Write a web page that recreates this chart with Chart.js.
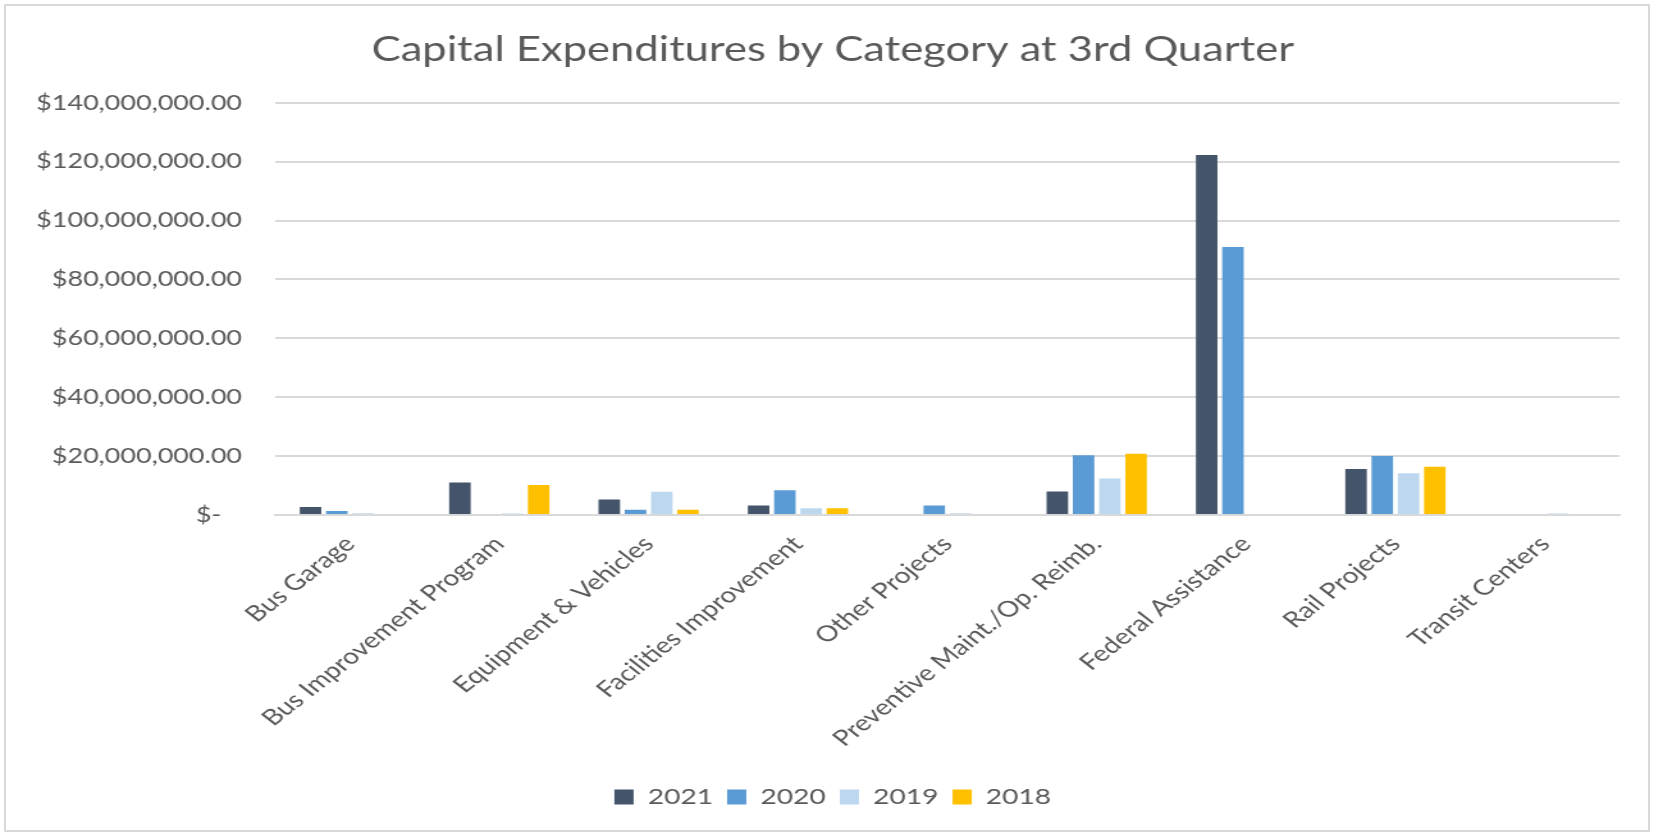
<!DOCTYPE html>
<html>
<head>
<meta charset="utf-8">
<script src="https://cdn.jsdelivr.net/npm/chart.js@4"></script>
<style>
  html, body { margin: 0; padding: 0; background: #fff; overflow: hidden; }
  #wrap { position: relative; width: 1654px; height: 833px; }
  /* the source picture is a horizontally stretched export, so the chart is drawn narrow and widened */
  #stretch { position: absolute; left: 0; top: 0; width: 1292px; height: 833px; transform: scaleX(1.2802); transform-origin: 0 0; }
  #frame { position: absolute; left: 4px; top: 4px; width: 1642px; height: 824px; border: 2px solid #d9d9d9; pointer-events: none; }
</style>
</head>
<body>
<div id="wrap">
  <div id="stretch"><canvas id="barCanvas" width="1292" height="833"></canvas></div>
  <div id="frame"></div>
</div>
<script>
const categories = ["Bus Garage", "Bus Improvement Program", "Equipment & Vehicles", "Facilities Improvement",
    "Other Projects", "Preventive Maint./Op. Reimb.", "Federal Assistance", "Rail Projects", "Transit Centers"]

// values in dollars
const y2021 = [2700000, 11000000, 5300000, 3200000, 0, 8000000, 122300000, 15600000, 0]
const y2020 = [1400000, 0, 1800000, 8400000, 3200000, 20300000, 91000000, 20000000, 0]
const y2019 = [600000, 500000, 7900000, 2300000, 600000, 12400000, 0, 14200000, 500000]
const y2018 = [0, 10200000, 1800000, 2300000, 0, 20800000, 0, 16400000, 0]

const years = ["2021", "2020", "2019", "2018"]
const colors = ["#44546a", "#5b9bd5", "#bdd7ee", "#ffc000"]
const yTicks = [0, 20000000, 40000000, 60000000, 80000000, 100000000, 120000000, 140000000]

const grey = "#595959"
const font = "Lato"

// y labels are clipped to the axis box, let the box reach the left edge
const unclipY = {
    id: "unclipY",
    afterLayout: chart => { chart.scales.y.left = 0 }
}

const barCanvas = document.getElementById("barCanvas")
const barChart = new Chart(barCanvas, {
    type: "bar",
    plugins: [unclipY],
    data: {
        labels: categories,
        datasets: [y2021, y2020, y2019, y2018].map((vals, i) => ({
            label: years[i],
            data: vals,
            backgroundColor: colors[i],
            borderWidth: 0,
            categoryPercentage: 0.703,
            barPercentage: 0.82
        }))
    },
    options: {
        responsive: false,
        animation: false,
        layout: { padding: { left: 36, right: 27, top: 0, bottom: 15 } },
        plugins: {
            title: {
                display: true,
                text: "Capital Expenditures by Category at 3rd Quarter",
                color: grey,
                font: { family: font, size: 34, weight: "normal" },
                padding: { top: 30, bottom: 32 }
            },
            legend: {
                position: "bottom",
                labels: {
                    color: grey,
                    font: { family: font, size: 22 },
                    boxWidth: 15,
                    boxHeight: 15,
                    padding: 11
                }
            },
            tooltip: { enabled: false }
        },
        scales: {
            x: {
                grid: { display: false, drawTicks: false },
                border: { display: true, color: "#d9d9d9", width: 2 },
                ticks: {
                    color: grey,
                    font: { family: font, size: 22 },
                    minRotation: 45,
                    maxRotation: 45,
                    autoSkip: false,
                    padding: 16
                },
                afterFit: scale => { scale.height = 260 }
            },
            y: {
                min: 0,
                max: 140000000,
                afterBuildTicks: scale => { scale.ticks = yTicks.map(v => ({ value: v })) },
                grid: { color: "#d9d9d9", lineWidth: 2, drawTicks: false },
                border: { display: false },
                ticks: {
                    color: grey,
                    font: { family: font, size: 21 },
                    padding: 26,
                    callback: v => v === 0 ? "$-   " : "$" + v.toLocaleString("en-US", { minimumFractionDigits: 2 })
                },
                afterFit: scale => { scale.width = 179 }
            }
        }
    }
})
</script>
</body>
</html>
